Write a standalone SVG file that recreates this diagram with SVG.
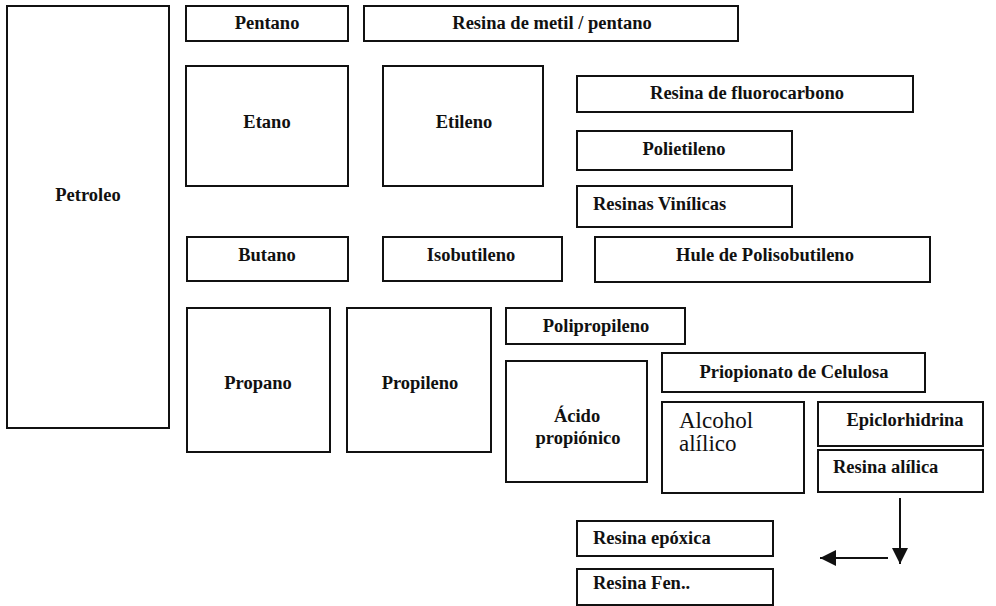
<svg xmlns="http://www.w3.org/2000/svg" width="996" height="606" viewBox="0 0 996 606">
<defs>
<style>
.b{fill:#fff;stroke:#111;stroke-width:2}
.t{font-family:"Liberation Serif","Times New Roman",serif;font-weight:bold;font-size:18.5px;fill:#111}
.c{text-anchor:middle}
.r{font-family:"Liberation Serif","Times New Roman",serif;font-size:23px;fill:#111}
.l{stroke:#111;stroke-width:2;fill:none}
</style>
<marker id="ah" viewBox="0 0 10 10" refX="10" refY="5" markerWidth="20" markerHeight="16" markerUnits="userSpaceOnUse" orient="auto"><path d="M0,0 L10,5 L0,10 z" fill="#111"/></marker>
</defs>
<rect width="996" height="606" fill="#fff"/>
<g id="petroleo"><rect class="b" x="7" y="6" width="162" height="422"/><text class="t c" x="88" y="201">Petroleo</text></g>
<g id="pentano"><rect class="b" x="186" y="6" width="162" height="35"/><text class="t c" x="267" y="29">Pentano</text></g>
<g id="resina-metil"><rect class="b" x="364" y="6" width="374" height="35"/><text class="t c" x="552" y="29">Resina de metil / pentano</text></g>
<g id="etano"><rect class="b" x="186" y="66" width="162" height="120"/><text class="t c" x="267" y="128">Etano</text></g>
<g id="etileno"><rect class="b" x="383" y="66" width="160" height="120"/><text class="t c" x="464" y="128">Etileno</text></g>
<g id="fluorocarbono"><rect class="b" x="577" y="76" width="336" height="36"/><text class="t c" x="747" y="99">Resina de fluorocarbono</text></g>
<g id="polietileno"><rect class="b" x="577" y="131" width="215" height="39"/><text class="t c" x="684" y="155">Polietileno</text></g>
<g id="vinilicas"><rect class="b" x="577" y="186" width="215" height="41"/><text class="t" x="593" y="210">Resinas Vinílicas</text></g>
<g id="hule"><rect class="b" x="595" y="237" width="335" height="45"/><text class="t c" x="765" y="261">Hule de Polisobutileno</text></g>
<g id="butano"><rect class="b" x="187" y="237" width="161" height="44"/><text class="t c" x="267" y="261">Butano</text></g>
<g id="isobutileno"><rect class="b" x="383" y="237" width="179" height="44"/><text class="t c" x="471" y="261">Isobutileno</text></g>
<g id="propano"><rect class="b" x="187" y="308" width="143" height="144"/><text class="t c" x="258" y="389">Propano</text></g>
<g id="propileno"><rect class="b" x="347" y="308" width="144" height="144"/><text class="t c" x="420" y="389">Propileno</text></g>
<g id="polipropileno"><rect class="b" x="506" y="308" width="179" height="36"/><text class="t c" x="596" y="332">Polipropileno</text></g>
<g id="acido"><rect class="b" x="506" y="361" width="141" height="121"/><text class="t c" x="577" y="422">Ácido</text><text class="t c" x="578" y="444">propiónico</text></g>
<g id="celulosa"><rect class="b" x="662" y="353" width="263" height="39"/><text class="t c" x="794" y="378">Priopionato de Celulosa</text></g>
<g id="alcohol"><rect class="b" x="662" y="402" width="142" height="91"/><text class="r" x="679" y="428">Alcohol</text><text class="r" x="679" y="451">alílico</text></g>
<g id="epiclorhidrina"><rect class="b" x="818" y="402" width="165" height="44"/><text class="t c" x="905" y="426">Epiclorhidrina</text></g>
<g id="resina-alilica"><rect class="b" x="818" y="450" width="165" height="42"/><text class="t" x="833" y="473">Resina alílica</text></g>
<g id="epoxica"><rect class="b" x="577" y="521" width="196" height="35"/><text class="t" x="593" y="544">Resina epóxica</text></g>
<g id="fen"><rect class="b" x="577" y="569" width="196" height="36"/><text class="t" x="593" y="589">Resina Fen..</text></g>
<g id="connectors">
<line class="l" x1="900" y1="498" x2="900" y2="564" marker-end="url(#ah)"/>
<line class="l" x1="888" y1="558" x2="820" y2="558" marker-end="url(#ah)"/>
</g>
</svg>
